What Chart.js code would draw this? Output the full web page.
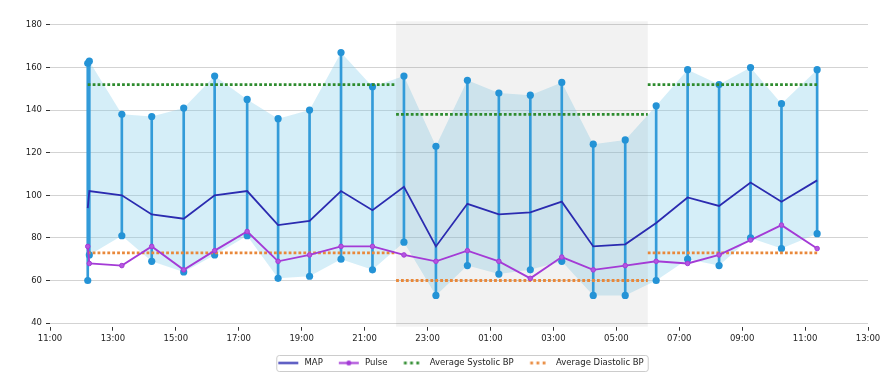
<!DOCTYPE html>
<html>
<head>
<meta charset="utf-8">
<script src="https://cdn.jsdelivr.net/npm/chart.js@4.4.0/dist/chart.umd.min.js"></script>
<style>
  html, body { margin: 0; padding: 0; background: #fff; }
  #wrap { position: relative; width: 896px; height: 387px; }
</style>
</head>
<body>
<div id="wrap"><canvas id="bpChart"></canvas></div>
<script>
// readings (roughly hourly, overnight into the next morning)
const readingTimes = ['12:12', '12:15', '13:17', '14:14', '15:15', '16:14', '17:16', '18:15', '19:15', '20:15',
    '21:15', '22:15', '23:16', '00:16', '01:16', '02:16', '03:16', '04:16', '05:17', '06:16',
    '07:16', '08:16', '09:16', '10:15', '11:23'];
const systolic = [162, 163, 138, 137, 141, 156, 145, 136, 140, 167, 151, 156, 123, 154, 148, 147, 153, 124, 126, 142, 159, 152, 160, 143, 159];
const diastolic = [60, 72, 81, 69, 64, 72, 81, 61, 62, 70, 65, 78, 53, 67, 63, 65, 69, 53, 53, 60, 70, 67, 80, 75, 82];
const meanArterial = [94, 102, 100, 91, 89, 100, 102, 86, 88, 102, 93, 104, 76, 96, 91, 92, 97, 76, 77, 87, 99, 95, 106, 97, 107];
const pulse = [76, 68, 67, 76, 65, 74, 83, 69, 72, 76, 76, 72, 69, 74, 69, 61, 71, 65, 67, 69, 68, 72, 79, 86, 75];

// day / night / day periods and their averages
const periodBounds = ['12:12', '22:00', '06:00', '11:23'];
const avgSystolic = [152, 138, 152];
const avgDiastolic = [73, 60, 73];
const nightPeriod = ['22:00', '06:00'];

const xTickLabels = ['11:00', '13:00', '15:00', '17:00', '19:00', '21:00', '23:00', '01:00', '03:00', '05:00', '07:00', '09:00', '11:00', '13:00'];
const yTicks = [40, 60, 80, 100, 120, 140, 160, 180];
const legendLabels = ['MAP', 'Pulse', 'Average Systolic BP', 'Average Diastolic BP'];

// clock times -> hours counted from midnight of the first day
function toHours(times) {
    let day = 0, prev = 0;
    return times.map(t => {
        const [h, m] = t.split(':').map(Number);
        const v = h + m / 60;
        if (v < prev) day += 24;
        prev = v;
        return v + day;
    });
}

const tHours = toHours(readingTimes);
const boundHours = toHours(periodBounds);
const nightHours = toHours(nightPeriod);
const xTickHours = toHours(xTickLabels);

const pts = vals => vals.map((v, i) => ({ x: tHours[i], y: v }));

function avgSegments(avgs) {
    const out = [];
    avgs.forEach((v, i) => {
        out.push({ x: boundHours[i], y: v }, { x: boundHours[i + 1], y: v }, { x: boundHours[i + 1], y: null });
    });
    return out;
}

// small canvases used as legend handles (line drawn from 4 to 24)
function legendIcon(draw) {
    const c = document.createElement('canvas');
    c.width = 26; c.height = 9;
    const g = c.getContext('2d');
    draw(g);
    return c;
}
const icons = {
    'MAP': legendIcon(g => {
        g.strokeStyle = '#2b2bb0'; g.lineWidth = 2;
        g.beginPath(); g.moveTo(4, 4.5); g.lineTo(24, 4.5); g.stroke();
    }),
    'Pulse': legendIcon(g => {
        g.strokeStyle = '#a43bd6'; g.fillStyle = '#a43bd6'; g.lineWidth = 2;
        g.beginPath(); g.moveTo(4, 4.5); g.lineTo(24, 4.5); g.stroke();
        g.beginPath(); g.arc(14, 4.5, 2.5, 0, Math.PI * 2); g.fill();
    }),
    'Average Systolic BP': legendIcon(g => {
        g.fillStyle = '#2e8b2e';
        [4.5, 10.7, 16.9].forEach(x => g.fillRect(x, 3.1, 2.8, 2.8));
    }),
    'Average Diastolic BP': legendIcon(g => {
        g.fillStyle = '#e9883a';
        [4.5, 10.7, 16.9].forEach(x => g.fillRect(x, 3.1, 2.8, 2.8));
    })
};

const nightShade = {
    id: 'nightShade',
    beforeDatasetDraw(chart, args) {
        if (args.index !== 2) return;
        const { ctx, chartArea, scales } = chart;
        const x0 = scales.x.getPixelForValue(nightHours[0]);
        const x1 = scales.x.getPixelForValue(nightHours[1]);
        ctx.save();
        ctx.fillStyle = 'rgba(128,128,128,0.1)';
        ctx.fillRect(x0, chartArea.top, x1 - x0, chartArea.bottom - chartArea.top);
        ctx.restore();
    }
};

const legendFrame = {
    id: 'legendFrame',
    afterDraw(chart) {
        const boxes = chart.legend && chart.legend.legendHitBoxes;
        if (!boxes || !boxes.length) return;
        const first = boxes[0], last = boxes[boxes.length - 1];
        const left = first.left + 2, right = last.left + last.width + 4;
        const top = first.top - 3.75, h = first.height + 7.5;
        const ctx = chart.ctx;
        ctx.save();
        ctx.strokeStyle = '#cccccc';
        ctx.lineWidth = 1;
        ctx.beginPath();
        ctx.roundRect(left + 0.5, top + 0.5, right - left, h, 2.5);
        ctx.stroke();
        ctx.restore();
    }
};

Chart.defaults.font.family = "'DejaVu Sans', sans-serif";
Chart.defaults.font.size = 8.5;
Chart.defaults.color = '#222';

const ctx = document.getElementById('bpChart').getContext('2d');
const bpChart = new Chart(ctx, {
    type: 'line',
    data: {
        datasets: [{
            label: 'Systolic band',
            data: pts(systolic),
            borderWidth: 0,
            pointRadius: 0,
            fill: '+1',
            backgroundColor: 'rgba(135,206,235,0.35)',
            order: 10
        }, {
            label: 'Diastolic band',
            data: pts(diastolic),
            borderWidth: 0,
            pointRadius: 0,
            fill: false,
            order: 9
        }, {
            type: 'bar',
            label: 'Range',
            data: tHours.map((x, i) => ({ x: x, y: [diastolic[i], systolic[i]] })),
            backgroundColor: '#339bd9',
            barThickness: 2,
            grouped: false,
            order: 8
        }, {
            label: 'Systolic',
            data: pts(systolic),
            showLine: false,
            pointRadius: 3.6,
            pointBackgroundColor: '#2493d6',
            pointBorderWidth: 0,
            order: 7
        }, {
            label: 'Diastolic',
            data: pts(diastolic),
            showLine: false,
            pointRadius: 3.6,
            pointBackgroundColor: '#2493d6',
            pointBorderWidth: 0,
            order: 7
        }, {
            label: 'Average Systolic BP',
            data: avgSegments(avgSystolic),
            borderColor: '#2e8b2e',
            borderWidth: 2.8,
            borderDash: [2.8, 2.1],
            pointRadius: 0,
            spanGaps: false,
            order: 4
        }, {
            label: 'Average Diastolic BP',
            data: avgSegments(avgDiastolic),
            borderColor: '#e9883a',
            borderWidth: 2.8,
            borderDash: [2.8, 2.1],
            pointRadius: 0,
            spanGaps: false,
            order: 4
        }, {
            label: 'MAP',
            data: pts(meanArterial),
            borderColor: '#2b2bb0',
            borderWidth: 1.8,
            pointRadius: 0,
            order: 2
        }, {
            label: 'Pulse',
            data: pts(pulse),
            borderColor: '#a43bd6',
            borderWidth: 1.9,
            pointRadius: 2.3,
            pointBackgroundColor: '#b655e0',
            pointBorderColor: '#a43bd6',
            pointBorderWidth: 1,
            order: 1
        }]
    },
    options: {
        responsive: true,
        maintainAspectRatio: false,
        animation: false,
        layout: {
            padding: { top: 21.3, right: 28, bottom: 9.75, left: 0 }
        },
        scales: {
            x: {
                type: 'linear',
                min: 11,
                max: 37,
                offset: false,
                border: { display: false },
                grid: { drawOnChartArea: false, drawTicks: true, tickLength: 4, tickColor: '#333', offset: false },
                ticks: {
                    padding: 3,
                    color: '#222',
                    maxRotation: 0,
                    callback: (value, index) => xTickLabels[index]
                },
                afterBuildTicks: scale => {
                    scale.ticks = xTickHours.map(v => ({ value: v }));
                },
                afterFit: scale => { scale.height = 20.05; }
            },
            y: {
                min: 38.3,
                max: 181.7,
                border: { display: false },
                grid: { color: '#d3d3d3', tickColor: '#333', tickLength: 4 },
                ticks: { padding: 4, color: '#222' },
                afterBuildTicks: scale => {
                    scale.ticks = yTicks.map(v => ({ value: v }));
                },
                afterFit: scale => { scale.width = 50; }
            }
        },
        plugins: {
            legend: {
                position: 'bottom',
                fullSize: false,
                labels: {
                    usePointStyle: true,
                    pointStyleWidth: 26,
                    boxHeight: 8.5,
                    padding: 12,
                    color: '#222',
                    generateLabels: chart => legendLabels.map(name => ({
                        text: name,
                        datasetIndex: chart.data.datasets.findIndex(d => d.label === name),
                        pointStyle: icons[name],
                        fontColor: '#222',
                        fillStyle: 'transparent',
                        strokeStyle: 'transparent',
                        lineWidth: 0,
                        hidden: false
                    }))
                }
            },
            tooltip: { enabled: false }
        }
    },
    plugins: [nightShade, legendFrame]
});
</script>
</body>
</html>
